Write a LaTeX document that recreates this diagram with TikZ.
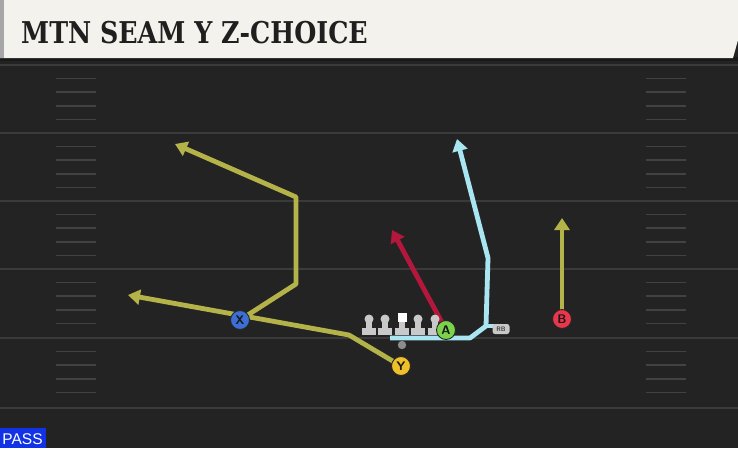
\documentclass[tikz,border=0pt]{standalone}
\usepackage{fontspec}
\setmainfont{DejaVu Sans}
\newfontfamily\titlefont{DejaVu Serif}
\newfontfamily\passfont{Liberation Sans}
\usetikzlibrary{arrows.meta}
\definecolor{field}{HTML}{232323}
\definecolor{yardc}{HTML}{3A3A3A}
\definecolor{hashc}{HTML}{424242}
\definecolor{cream}{HTML}{F4F2EC}
\definecolor{olivec}{HTML}{B4B34A}
\definecolor{redc}{HTML}{B3183C}
\definecolor{cyanc}{HTML}{A9E6F2}
\definecolor{linec}{HTML}{C9C9C9}
\definecolor{xblue}{HTML}{3C6FD6}
\definecolor{yyel}{HTML}{EFC02A}
\definecolor{agrn}{HTML}{7CD24A}
\definecolor{bred}{HTML}{E8364C}
\definecolor{passblue}{HTML}{1232E6}
\begin{document}
\begin{tikzpicture}[x=1pt,y=-1pt,
  route/.style={line width=4.8pt, line join=round, -{Triangle[length=12pt,width=15pt]}},
  plain/.style={line width=4.8pt, line join=round},
  player/.style={circle, minimum size=19pt, inner sep=0pt, draw=black!85, line width=0.9pt,
     font=\sffamily\bfseries\fontsize{12.5}{12.5}\selectfont, text=black!90},
  yard/.style={draw=yardc, line width=2pt},
  hash/.style={draw=hashc, line width=1.5pt},
  lineman/.style={fill=linec}]
\useasboundingbox (0,0) rectangle (738,448);
% background
\fill[field] (0,0) rectangle (738,448);
% yard lines
\foreach \y in {65,133,201,269,338,408} \draw[yard] (0,\y) -- (738,\y);
% hash marks
\foreach \b in {65,133,201,269,338} {
  \foreach \k in {1,2,3,4} {
    \draw[hash] (56,\b+13.6*\k) -- (96,\b+13.6*\k);
    \draw[hash] (646,\b+13.6*\k) -- (686,\b+13.6*\k);
  }
}
% title bar
\fill[black!90] (0,57) rectangle (738,61);
\fill[cream] (0,0) -- (738,0) -- (738,40) -- (733,58) -- (0,58) -- cycle;
\fill[black!35] (0,0) rectangle (4,58);
\node[anchor=west, inner sep=0pt, text=black!88] (title) at (21,33)
  {\scalebox{0.845}[1]{\titlefont\bfseries\fontsize{30}{30}\selectfont MTN SEAM Y Z-CHOICE}};
% player positions
\coordinate (Xc) at (240,320);
\coordinate (Yc) at (401,366);
\coordinate (Ac) at (446,330);
\coordinate (Bc) at (562,319);
\coordinate (x1) at (296,284);
\coordinate (x2) at (296,197);
\coordinate (xe) at (175,144);
\coordinate (y1) at (349,335);
\coordinate (ye) at (128,295);
\coordinate (ae) at (392,230);
\coordinate (be) at (562,218);
\coordinate (c0) at (390,338);
\coordinate (c1) at (470,338);
\coordinate (c2) at (486,326);
\coordinate (c3) at (488,258);
\coordinate (ce) at (457,139);
\coordinate (c4) at (494,326);
% routes
\draw[route, olivec] (Xc) -- (x1) -- (x2) -- (xe);
\draw[route, olivec] (Yc) -- (y1) -- (ye);
\draw[route, redc] (Ac) -- (ae);
\draw[route, olivec] (Bc) -- (be);
\draw[route, cyanc] (c0) -- (c1) -- (c2) -- (c3) -- (ce);
\draw[plain, cyanc] (c2) -- (c4);
% offensive line
\foreach \x in {369,385,418,435} {
  \fill[lineman] (\x-7,328) rectangle (\x+7,335);
  \fill[lineman] (\x-3,319) rectangle (\x+3,329);
  \fill[lineman] (\x,319) circle (4.5);
}
\fill[lineman] (402-7,328) rectangle (402+7,335);
\fill[lineman] (402-3,320) rectangle (402+3,329);
\fill[white] (397.5,313) rectangle (406.5,322);
% QB
\fill[black!45] (402,345) circle (4.2);
% RB
\node[fill=linec, rounded corners=2.5pt, minimum width=17pt, minimum height=10pt, inner sep=0pt,
  font=\sffamily\bfseries\fontsize{6.5}{6.5}\selectfont, text=black!75] (RB) at (501,329) {RB};
% players
\node[player, fill=xblue] (X) at (Xc) {X};
\node[player, fill=yyel] (Y) at (Yc) {Y};
\node[player, fill=agrn] (A) at (Ac) {A};
\node[player, fill=bred] (B) at (Bc) {B};
% pass label
\fill[passblue] (0,428) rectangle (46,448);
\node[text=white, inner sep=0pt, font=\passfont\fontsize{15.5}{15.5}\selectfont] (pass) at (22.5,439) {PASS};
\end{tikzpicture}
\end{document}
